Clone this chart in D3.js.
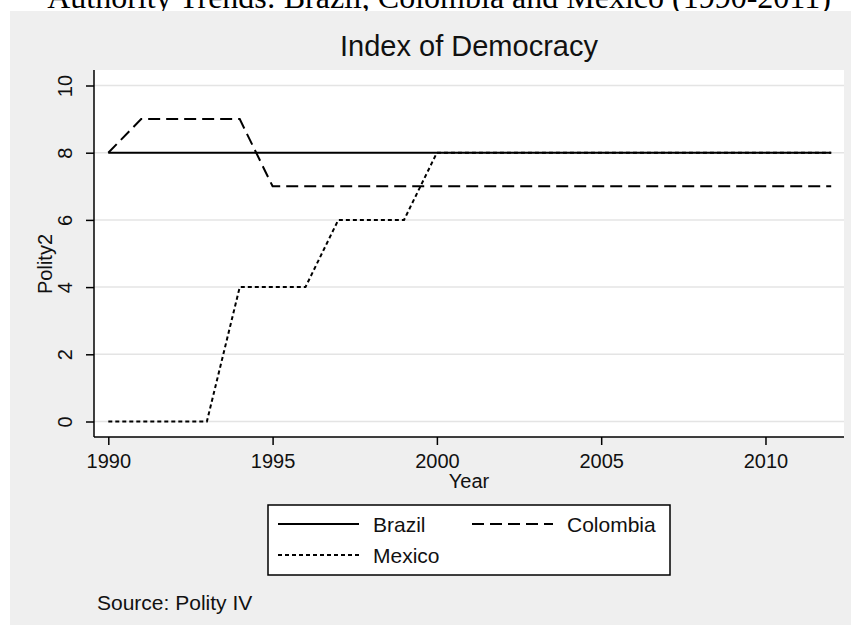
<!DOCTYPE html>
<html>
<head>
<meta charset="utf-8">
<script src="https://cdn.jsdelivr.net/npm/d3@7"></script>
<style>
    body { margin: 0; background: #ffffff; }
    #chart-area { width: 851px; height: 625px; }
    text { font-family: Arial, "Liberation Sans", sans-serif; fill: #111; }
</style>
</head>
<body>
<div id="chart-area"></div>
<script>
// data (Polity2 score per year)
const years = [1990, 1991, 1992, 1993, 1994, 1995, 1996, 1997, 1998, 1999, 2000, 2001,
    2002, 2003, 2004, 2005, 2006, 2007, 2008, 2009, 2010, 2011, 2012];
const brazil = [8, 8, 8, 8, 8, 8, 8, 8, 8, 8, 8, 8, 8, 8, 8, 8, 8, 8, 8, 8, 8, 8, 8];
const colombia = [8, 9, 9, 9, 9, 7, 7, 7, 7, 7, 7, 7, 7, 7, 7, 7, 7, 7, 7, 7, 7, 7, 7];
const mexico = [0, 0, 0, 0, 4, 4, 4, 6, 6, 6, 8, 8, 8, 8, 8, 8, 8, 8, 8, 8, 8, 8, 8];
const yTicks = [0, 2, 4, 6, 8, 10];
const xTicks = [1990, 1995, 2000, 2005, 2010];

class TrendPlot {
    constructor(parentElement) {
        this.parentElement = parentElement;
        this.series = [
            {name: "Brazil", values: brazil, dash: null},
            {name: "Colombia", values: colombia, dash: "12,6"},
            {name: "Mexico", values: mexico, dash: "4,3"}
        ];
        this.initVis();
    }

    initVis() {
        let vis = this;

        vis.width = 851;
        vis.height = 625;

        // plot region (white box)
        vis.plot = {left: 94, right: 844, top: 70, bottom: 437};

        vis.svg = d3.select("#" + vis.parentElement).append("svg")
            .attr("width", vis.width)
            .attr("height", vis.height);

        // outer title, partly cut off at the top
        vis.svg.append("text")
            .text("Authority Trends: Brazil, Colombia and Mexico (1990-2011)")
            .attr("x", 439)
            .attr("y", 8)
            .attr("text-anchor", "middle")
            .style("font-family", "'Times New Roman', 'Liberation Serif', serif")
            .style("font-size", "32px")
            .style("fill", "#000");

        // grey graph background
        vis.svg.append("rect")
            .attr("x", 10)
            .attr("y", 11)
            .attr("width", vis.width - 10)
            .attr("height", vis.height - 11)
            .attr("fill", "#efefef");

        vis.svg.append("rect")
            .attr("x", vis.plot.left)
            .attr("y", vis.plot.top)
            .attr("width", vis.plot.right - vis.plot.left)
            .attr("height", vis.plot.bottom - vis.plot.top)
            .attr("fill", "#ffffff");

        // scales
        vis.x = d3.scaleLinear().domain([1990, 2012]).range([108.3, 831.2]);
        vis.y = d3.scaleLinear().domain([0, 10]).range([421.5, 85.5]);

        // gridlines
        vis.svg.append("g")
            .selectAll(".grid")
            .data(yTicks)
            .enter()
            .append("line")
            .attr("class", "grid")
            .attr("x1", vis.plot.left)
            .attr("x2", vis.plot.right)
            .attr("y1", d => vis.y(d))
            .attr("y2", d => vis.y(d))
            .attr("stroke", "#e4e4e4")
            .attr("stroke-width", 1.5);

        // axes
        vis.yAxis = vis.svg.append("g")
            .attr("class", "axis axis--y")
            .attr("transform", "translate(" + vis.plot.left + ",0)")
            .call(d3.axisLeft(vis.y).tickValues(yTicks).tickSize(8).tickSizeOuter(0));

        vis.yAxis.selectAll(".tick text")
            .attr("x", 0)
            .attr("dy", 0)
            .attr("text-anchor", "middle")
            .attr("transform", "translate(-22,0) rotate(-90)");

        vis.xAxis = vis.svg.append("g")
            .attr("class", "axis axis--x")
            .attr("transform", "translate(0," + vis.plot.bottom + ")")
            .call(d3.axisBottom(vis.x).tickValues(xTicks).tickFormat(d3.format("d")).tickSize(8).tickSizeOuter(0));

        vis.xAxis.selectAll(".tick text")
            .attr("y", 31)
            .attr("dy", 0);

        vis.svg.selectAll(".axis .domain").remove();
        vis.svg.selectAll(".axis .tick line")
            .attr("stroke", "#000")
            .attr("stroke-width", 1.5);
        vis.svg.selectAll(".axis .tick text")
            .style("font-size", "20px")
            .style("font-family", "Arial, 'Liberation Sans', sans-serif")
            .attr("fill", "#111");

        // axis lines span the whole plot region
        vis.svg.append("line")
            .attr("x1", vis.plot.left).attr("x2", vis.plot.left)
            .attr("y1", vis.plot.top).attr("y2", vis.plot.bottom)
            .attr("stroke", "#000").attr("stroke-width", 1.5);
        vis.svg.append("line")
            .attr("x1", vis.plot.left).attr("x2", vis.plot.right)
            .attr("y1", vis.plot.bottom).attr("y2", vis.plot.bottom)
            .attr("stroke", "#000").attr("stroke-width", 1.5);

        // axis titles
        vis.svg.append("text")
            .text("Polity2")
            .attr("text-anchor", "middle")
            .attr("transform", "translate(52,264) rotate(-90)")
            .style("font-size", "20px");

        vis.svg.append("text")
            .text("Year")
            .attr("x", (vis.plot.left + vis.plot.right) / 2)
            .attr("y", 488)
            .attr("text-anchor", "middle")
            .style("font-size", "20px");

        // graph title
        vis.svg.append("text")
            .text("Index of Democracy")
            .attr("x", (vis.plot.left + vis.plot.right) / 2)
            .attr("y", 56)
            .attr("text-anchor", "middle")
            .style("font-size", "29px");

        // note
        vis.svg.append("text")
            .text("Source: Polity IV")
            .attr("x", 97)
            .attr("y", 610)
            .style("font-size", "21px");

        vis.lineGroup = vis.svg.append("g").attr("class", "lineGroup");

        vis.drawLine = d3.line()
            .curve(d3.curveLinear)
            .x(d => vis.x(d.year))
            .y(d => vis.y(d.value));

        this.wrangleData();
    }

    wrangleData() {
        let vis = this;

        vis.displayData = vis.series.map(s => ({
            name: s.name,
            dash: s.dash,
            points: years.map((yr, i) => ({year: yr, value: s.values[i]}))
        }));

        this.updateVis();
    }

    updateVis() {
        let vis = this;

        vis.lineGroup.selectAll(".trend-line")
            .data(vis.displayData)
            .enter()
            .append("path")
            .attr("class", "trend-line")
            .attr("fill", "none")
            .attr("stroke", "#000")
            .attr("stroke-width", 2)
            .attr("stroke-dasharray", d => d.dash)
            .attr("d", d => vis.drawLine(d.points));

        // legend
        let legend = vis.svg.append("g").attr("class", "legend");

        legend.append("rect")
            .attr("x", 268)
            .attr("y", 505)
            .attr("width", 402)
            .attr("height", 70)
            .attr("fill", "#ffffff")
            .attr("stroke", "#000")
            .attr("stroke-width", 1.5);

        let slots = [
            {x: 278, y: 524},
            {x: 472, y: 524},
            {x: 278, y: 555}
        ];

        let items = legend.selectAll(".legend-item")
            .data(vis.displayData)
            .enter()
            .append("g")
            .attr("class", "legend-item")
            .attr("transform", (d, i) => "translate(" + slots[i].x + "," + slots[i].y + ")");

        items.append("line")
            .attr("x1", 0)
            .attr("x2", 81)
            .attr("y1", 0)
            .attr("y2", 0)
            .attr("stroke", "#000")
            .attr("stroke-width", 2)
            .attr("stroke-dasharray", d => d.dash);

        items.append("text")
            .text(d => d.name)
            .attr("x", 95)
            .attr("y", 8)
            .style("font-size", "21px");
    }
}

new TrendPlot("chart-area");
</script>
</body>
</html>
